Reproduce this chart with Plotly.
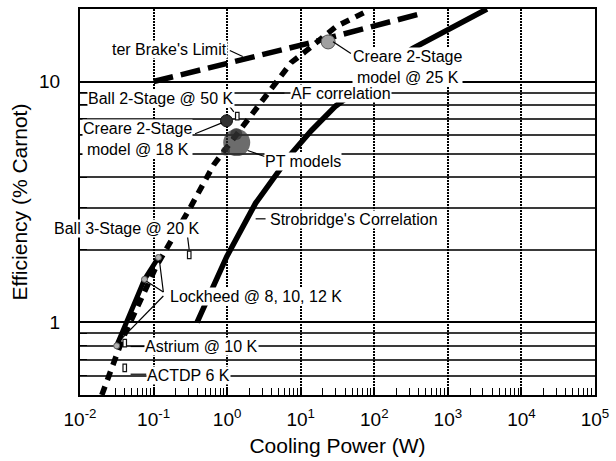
import plotly.graph_objects as go

# ---------------- data ----------------
strob_x = [0.39, 0.99, 2.44, 5.0, 7.5, 13.9, 30, 330, 3400]
strob_y = [1.0, 1.88, 3.13, 4.28, 5.03, 6.25, 7.92, 13.7, 20.0]

terbrake_x = [0.1, 12.6, 480]
terbrake_y = [10, 14.4, 19.3]

af_x = [0.0198, 0.0279, 0.038, 0.109, 0.180, 0.314, 0.662, 1.85, 3.65, 7.46, 11.5, 30.2, 72]
af_y = [0.50, 0.664, 0.857, 1.71, 2.21, 2.99, 4.53, 6.87, 9.04, 12.0, 13.3, 16.9, 19.3]

lockheed_x = [0.0315, 0.0753, 0.1163]
lockheed_y = [0.80, 1.51, 1.86]

creare18_x = [0.98]
creare18_y = [6.87]
creare25_x = [23.6]
creare25_y = [14.6]

pt_x = [1.35, 1.33, 0.95]
pt_y = [5.58, 6.05, 5.15]
pt_size = [27, 12, 9]

rect_x = [1.30, 0.289, 0.0384, 0.0384]   # Ball 2-Stage, Ball 3-Stage, Astrium, ACTDP
rect_y = [6.93, 1.84, 0.792, 0.625]

xtick_vals = [1e-2, 1e-1, 1e0, 1e1, 1e2, 1e3, 1e4, 1e5]
xtick_text = ["10<sup>-2</sup>", "10<sup>-1</sup>", "10<sup>0</sup>", "10<sup>1</sup>",
              "10<sup>2</sup>", "10<sup>3</sup>", "10<sup>4</sup>", "10<sup>5</sup>"]
ytick_vals = [1, 10]
ytick_text = ["1", "10"]

# ---------------- figure ----------------
W, H = 616, 461
L, R, T, B = 80, 17, 7, 64
PW, PH = W - L - R, H - T - B
FONT = "Liberation Sans, Arial, Helvetica, sans-serif"

def P(xp, yp):
    """pixel position in the page -> paper coordinates"""
    return (xp - L) / PW, (H - B - yp) / PH

fig = go.Figure()

fig.add_trace(go.Scatter(x=strob_x, y=strob_y, mode="lines",
                         line=dict(color="black", width=5.5), hoverinfo="skip"))
fig.add_trace(go.Scatter(x=terbrake_x, y=terbrake_y, mode="lines",
                         line=dict(color="black", width=5.5, dash="20px,8px"), hoverinfo="skip"))
fig.add_trace(go.Scatter(x=af_x, y=af_y, mode="lines",
                         line=dict(color="black", width=5.5, dash="9px,7px"), hoverinfo="skip"))
fig.add_trace(go.Scatter(x=lockheed_x, y=lockheed_y, mode="lines+markers",
                         line=dict(color="black", width=5),
                         marker=dict(size=6, color="#b0b0b0", line=dict(color="#555", width=1)),
                         hoverinfo="skip"))
fig.add_trace(go.Scatter(x=pt_x, y=pt_y, mode="markers",
                         marker=dict(size=pt_size, color="#2e2e2e", line=dict(width=0)),
                         hoverinfo="skip"))
fig.add_trace(go.Scatter(x=creare18_x, y=creare18_y, mode="markers",
                         marker=dict(size=12, color="#333333", line=dict(color="#111", width=1)),
                         hoverinfo="skip"))
fig.add_trace(go.Scatter(x=creare25_x, y=creare25_y, mode="markers",
                         marker=dict(size=14, color="#a0a0a0", line=dict(color="#555", width=1)),
                         hoverinfo="skip"))

shapes = []
for rx, ry in zip(rect_x, rect_y):
    shapes.append(dict(type="rect", xref="x", yref="y", xsizemode="pixel", ysizemode="pixel",
                       xanchor=rx, yanchor=ry, x0=-3.5, x1=3.5, y0=-7.5, y1=7.5,
                       fillcolor="white", line=dict(color="#111", width=1.2), layer="above"))

# leader lines (pixel positions of the annotation callouts)
leaders = [
    ((231, 49), (244, 55)),      # ter Brake
    ((226, 99), (235, 111)),     # Ball 2-Stage
    ((196, 133), (223, 122)),    # Creare 18 K
    ((271, 92), (286, 92)),      # AF correlation
    ((335, 40), (353, 52)),      # Creare 25 K
    ((249, 150), (266, 156)),    # PT models
    ((257, 219), (267, 219)),    # Strobridge
    ((188, 234), (190, 250)),    # Ball 3-Stage
    ((164, 293), (160, 261)),    # Lockheed
    ((164, 293), (147, 282)),
    ((164, 297), (120, 342)),
    ((131, 348), (145, 348)),    # Astrium
    ((131, 376), (147, 376)),    # ACTDP
]
for (a, b) in leaders:
    x0, y0 = P(*a)
    x1, y1 = P(*b)
    shapes.append(dict(type="line", xref="paper", yref="paper", x0=x0, y0=y0, x1=x1, y1=y1,
                       line=dict(color="black", width=1.2), layer="above"))

labels = [
    ("ter Brake's Limit", 170, 48),
    ("Ball 2-Stage @ 50 K", 162, 97),
    ("Creare 2-Stage<br>model @ 18 K", 138, 138),
    ("AF correlation", 343, 92),
    ("Creare 2-Stage<br>model @ 25 K", 410, 66),
    ("PT models", 305, 161),
    ("Strobridge's Correlation", 356, 220),
    ("Ball 3-Stage @ 20 K", 127, 229),
    ("Lockheed @ 8, 10, 12 K", 257, 297),
    ("Astrium @ 10 K", 202, 348),
    ("ACTDP 6 K", 189, 377),
]
annotations = []
for txt, xp, yp in labels:
    ax_, ay_ = P(xp, yp)
    annotations.append(dict(text=txt, x=ax_, y=ay_, xref="paper", yref="paper",
                            xanchor="center", yanchor="middle", showarrow=False,
                            bgcolor="white", borderpad=0,
                            font=dict(size=16, color="black", family=FONT)))

fig.update_layout(
    width=W, height=H,
    margin=dict(l=L, r=R, t=T, b=B, pad=0),
    paper_bgcolor="white", plot_bgcolor="white",
    showlegend=False,
    font=dict(family=FONT, color="black", size=16),
    shapes=shapes, annotations=annotations,
)

fig.update_xaxes(
    type="log", range=[-2, 5],
    tickmode="array", tickvals=xtick_vals, ticktext=xtick_text,
    ticks="inside", ticklen=7, tickwidth=1.5, tickcolor="black",
    tickfont=dict(size=19, family=FONT, color="black"), ticklabelstandoff=6,
    showline=True, linecolor="black", linewidth=2, mirror=True,
    showgrid=True, gridcolor="black", gridwidth=2, griddash="2px,1px",
    zeroline=False,
    minor=dict(dtick="D1", ticks="inside", ticklen=7, tickwidth=1.2, tickcolor="black", showgrid=False),
    title=dict(text="Cooling Power (W)", font=dict(size=21, family=FONT, color="black"), standoff=10),
)
fig.update_yaxes(
    type="log", range=[-0.30103, 1.30103],
    tickmode="array", tickvals=ytick_vals, ticktext=ytick_text,
    ticks="inside", ticklen=7, tickwidth=1.5, tickcolor="black",
    tickfont=dict(size=19, family=FONT, color="black"), ticklabelstandoff=14,
    showline=True, linecolor="black", linewidth=2, mirror=True,
    showgrid=True, gridcolor="black", gridwidth=2,
    zeroline=False,
    minor=dict(dtick="D1", ticks="inside", ticklen=7, tickwidth=1.2, tickcolor="black",
               showgrid=True, gridcolor="#3a3a3a", gridwidth=1.5),
    title=dict(text="Efficiency (% Carnot)", font=dict(size=21, family=FONT, color="black"), standoff=6),
)

fig.write_html("out.html")
